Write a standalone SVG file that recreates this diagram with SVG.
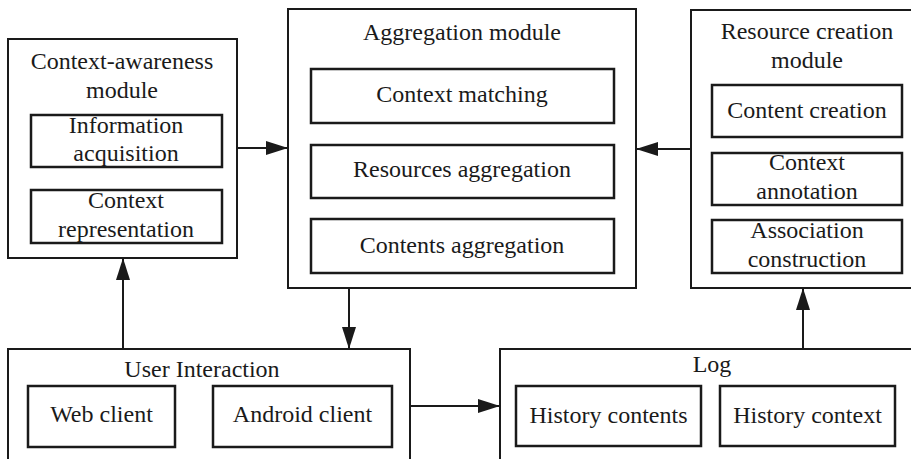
<svg xmlns="http://www.w3.org/2000/svg" width="911" height="459" viewBox="0 0 911 459">
<defs>
<style>
.outer{fill:#fff;stroke:#1a1a1a;stroke-width:2}
.inner{fill:#fff;stroke:#1a1a1a;stroke-width:2.5}
.t{font-size:24px;fill:#1a1a1a;text-anchor:middle}
.c{stroke:#1a1a1a;stroke-width:2;fill:none;marker-end:url(#ah)}
</style>
<marker id="ah" markerUnits="userSpaceOnUse" markerWidth="22" markerHeight="14" refX="22" refY="7" orient="auto">
<path d="M0,0 L22,7 L0,14 Z" fill="#1a1a1a"/>
</marker>
</defs>
<rect width="911" height="459" fill="#fff"/>
<g font-family="'Liberation Serif', 'Times New Roman', 'DejaVu Serif', serif">
<g id="context-awareness">
<rect class="outer" x="8" y="39" width="229" height="219"/>
<text class="t" x="122" y="69">Context-awareness</text>
<text class="t" x="122" y="98">module</text>
<rect class="inner" x="31" y="115" width="191" height="52"/>
<text class="t" x="126" y="133">Information</text>
<text class="t" x="126" y="161">acquisition</text>
<rect class="inner" x="31" y="190" width="191" height="53"/>
<text class="t" x="126" y="208">Context</text>
<text class="t" x="126" y="237">representation</text>
</g>
<g id="aggregation">
<rect class="outer" x="288" y="9" width="348" height="279"/>
<text class="t" x="462" y="40">Aggregation module</text>
<rect class="inner" x="311" y="69" width="303" height="54"/>
<text class="t" x="462" y="102">Context matching</text>
<rect class="inner" x="311" y="145" width="303" height="53"/>
<text class="t" x="462" y="177">Resources aggregation</text>
<rect class="inner" x="311" y="219" width="303" height="54"/>
<text class="t" x="462" y="253">Contents aggregation</text>
</g>
<g id="resource-creation">
<rect class="outer" x="691" y="10" width="240" height="278"/>
<text class="t" x="807" y="39">Resource creation</text>
<text class="t" x="807" y="68">module</text>
<rect class="inner" x="712" y="85" width="190" height="52"/>
<text class="t" x="807" y="118">Content creation</text>
<rect class="inner" x="712" y="153" width="190" height="52"/>
<text class="t" x="807" y="170">Context</text>
<text class="t" x="807" y="199">annotation</text>
<rect class="inner" x="712" y="220" width="190" height="53"/>
<text class="t" x="807" y="238">Association</text>
<text class="t" x="807" y="267">construction</text>
</g>
<g id="user-interaction">
<rect class="outer" x="8" y="349" width="402" height="130"/>
<text class="t" x="202" y="377">User Interaction</text>
<rect class="inner" x="28" y="386" width="147" height="61"/>
<text class="t" x="101.5" y="422">Web client</text>
<rect class="inner" x="213" y="386" width="179" height="61"/>
<text class="t" x="302.5" y="422">Android client</text>
</g>
<g id="log">
<rect class="outer" x="500" y="349" width="431" height="130"/>
<text class="t" x="712" y="372">Log</text>
<rect class="inner" x="516" y="386" width="185" height="60"/>
<text class="t" x="608.5" y="423">History contents</text>
<rect class="inner" x="720" y="386" width="175" height="60"/>
<text class="t" x="807.5" y="423">History context</text>
</g>
</g>
<g id="connectors">
<line class="c" x1="237" y1="148" x2="288" y2="148"/>
<line class="c" x1="691" y1="149" x2="636" y2="149"/>
<line class="c" x1="349" y1="288" x2="349" y2="349"/>
<line class="c" x1="123" y1="349" x2="123" y2="258"/>
<line class="c" x1="410" y1="406" x2="500" y2="406"/>
<line class="c" x1="803" y1="349" x2="803" y2="288"/>
</g>
</svg>
